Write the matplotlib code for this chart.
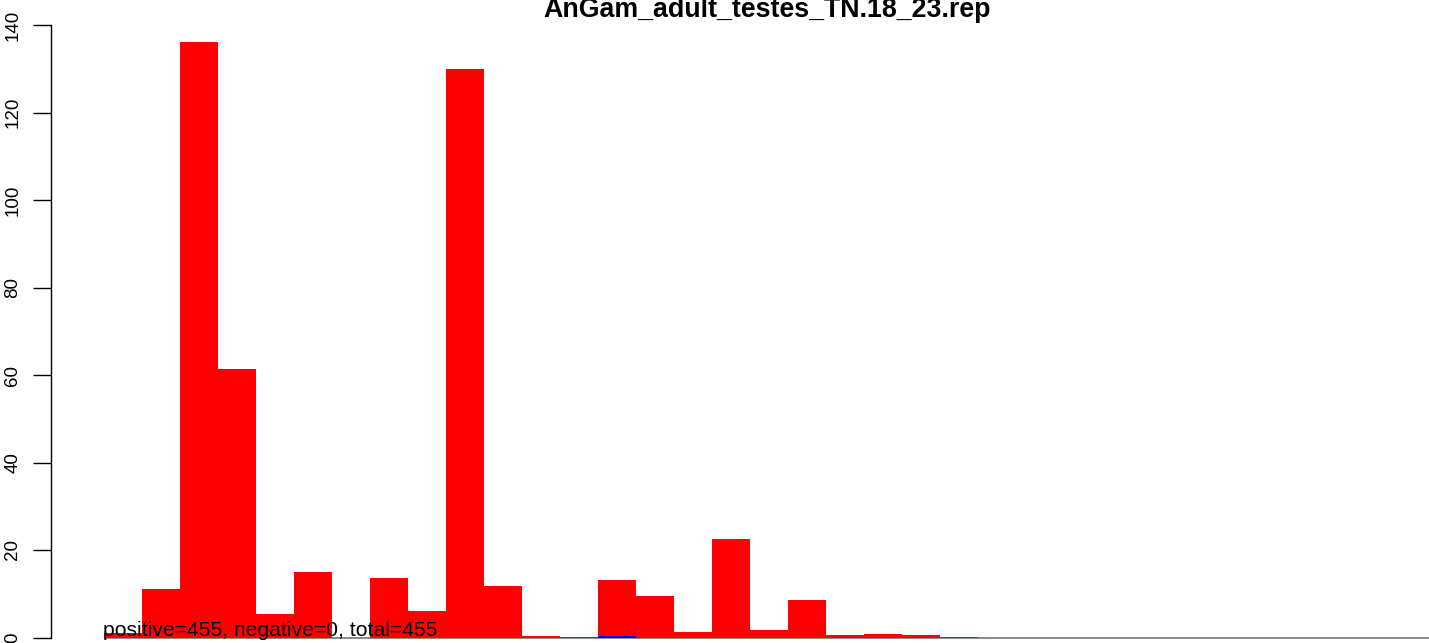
import matplotlib
matplotlib.use("Agg")
import matplotlib.pyplot as plt
import numpy as np

plt.rcParams['font.family'] = ['Liberation Sans', 'DejaVu Sans']

title = "AnGam_adult_testes_TN.18_23.rep"
positive = [1.0, 11.1, 136.1, 61.4, 5.4, 15.0, 0.0, 13.6, 6.1, 129.9, 11.8,
            0.4, 0.2, 12.9, 9.5, 1.3, 22.6, 1.8, 8.6, 0.6, 0.9, 0.6, 0.1]
negative = [0, 0, 0, 0, 0, 0, 0, 0, 0, 0, 0,
            0, 0, 0.25, 0, 0, 0, 0, 0, 0, 0, 0, 0]
yticks = [0, 20, 40, 60, 80, 100, 120, 140]
note = "positive=455, negative=0, total=455"

W, H = 1429, 643
fig = plt.figure(figsize=(W / 100, H / 100), dpi=100)
left_px = 50.5
ax = fig.add_axes([left_px / W, 0, 1 - left_px / W, 1])

px_per_unit_y = 4.375
y0_px = 637.5
ymin = -(H - y0_px) / px_per_unit_y
ymax = y0_px / px_per_unit_y
bar_px = 38.0
first_bar_px = 104.0
xmin = -(first_bar_px - left_px) / bar_px
xmax = (W - first_bar_px) / bar_px
ax.set_xlim(xmin, xmax)
ax.set_ylim(ymin, ymax)

x = np.arange(len(positive))
ax.hlines(0, 0, xmax, color='#777777', lw=1.2, zorder=1)
ax.bar(x, negative, width=1.0, align='edge', color='#0000ff', lw=0, zorder=2)
ax.bar(x, positive, width=1.0, align='edge', bottom=negative, color='#ff0000', lw=0, zorder=2)

for s in ['top', 'right', 'bottom']:
    ax.spines[s].set_visible(False)
ax.spines['left'].set_bounds(0, 140)
ax.spines['left'].set_linewidth(1.0)
ax.set_xticks([])
ax.set_yticks(yticks)
ax.set_yticklabels([str(v) for v in yticks], rotation=90, va='center', fontsize=13.5)
ax.tick_params(axis='y', length=13, width=1.0, pad=8)

fig.text(767.5 / W, 1 - 17 / H, title,
         ha='center', va='baseline', fontsize=19.3, fontweight='bold')
ax.text(-0.03, 0.34, note, ha='left', va='baseline', fontsize=15.2, zorder=3,
        transform=ax.transData)

fig.savefig("out.png", dpi=100)
